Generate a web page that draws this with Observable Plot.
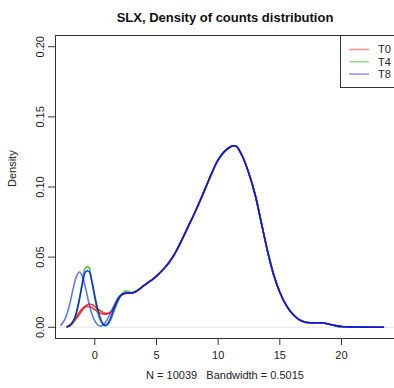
<!DOCTYPE html>
<html><head><meta charset="utf-8">
<script src="https://cdn.jsdelivr.net/npm/d3@7"></script>
<script src="https://cdn.jsdelivr.net/npm/@observablehq/plot@0.6"></script>
<style>
body{margin:0;background:#fff;font-family:"Liberation Sans",Arial,sans-serif;}
#wrap{position:relative;width:394px;height:388px;overflow:hidden;}
#legend{position:absolute;left:340px;top:35px;width:60px;height:53px;border:1px solid #333;background:#fff;box-sizing:border-box;}
</style></head><body>
<div id="wrap"><div id="chart"></div><div id="legend"></div></div>
<script>
const title = "SLX, Density of counts distribution";
const xLabel = "N = 10039   Bandwidth = 0.5015";
const yLabel = "Density";
const xTicks = [0, 5, 10, 15, 20];
const yTicks = [0, 0.05, 0.10, 0.15, 0.20];
const groups = ["T0", "T4", "T8"];
const curveIds = ["T0a", "T0b", "T4a", "T8a", "T8b"];

// low region, shared x grid
const xLow = [-2.75,-2.5,-2.25,-2,-1.75,-1.5,-1.25,-1,-0.75,-0.5,-0.25,0,0.25,0.5,0.75,1,1.25,1.5,1.75,2,2.25,2.5,2.75];
const T0a = [null,null,0.0003,0.0015,0.0035,0.0062,0.0092,0.0125,0.0152,0.0166,0.0162,0.0148,0.0130,0.0114,0.0102,0.0097,0.0105,0.0130,0.0172,0.0212,0.0236,0.0244,0.0245];
const T0b = [null,null,0.0003,0.0017,0.0042,0.0075,0.0108,0.0134,0.0148,0.0149,0.0140,0.0125,0.0110,0.0099,0.0094,0.0096,0.0108,0.0135,0.0176,0.0215,0.0237,0.0244,0.0245];
const T4a = [null,null,0.0003,0.0010,0.0034,0.0094,0.0199,0.0330,0.0426,0.0428,0.0335,0.0204,0.0097,0.0038,0.0012,0.0014,0.0045,0.0100,0.0158,0.0208,0.0243,0.0258,0.0255];
const T8a = [0.0015,0.0045,0.0098,0.0180,0.0279,0.0361,0.0394,0.0361,0.0279,0.0180,0.0098,0.0045,0.0015,0.0008,0.0022,0.0055,0.0095,0.0145,0.0190,0.0222,0.0237,0.0242,0.0243];
const T8b = [null,null,0.0004,0.0016,0.0045,0.0106,0.0201,0.0311,0.0395,0.0400,0.0330,0.0223,0.0123,0.0052,0.0015,0.0022,0.0060,0.0120,0.0175,0.0215,0.0235,0.0242,0.0243];

// main body, shared by all curves
const xHigh = [3,3.25,3.5,4,4.5,5,5.5,6,6.5,7,7.5,8,8.5,9,9.5,10,10.5,11,11.25,11.5,12,12.5,13,13.5,14,14.5,15,15.5,16,16.5,17,17.5,18,18.5,19,19.5,20,20.5,21,22,23,23.4];
const dHigh = [0.0245,0.0251,0.0265,0.0298,0.0330,0.0365,0.0408,0.0460,0.0527,0.0612,0.0705,0.0797,0.0895,0.0998,0.1103,0.1193,0.1252,0.1287,0.1294,0.1288,0.1212,0.1095,0.0945,0.0745,0.0545,0.0375,0.0250,0.0160,0.0098,0.0058,0.0038,0.0032,0.0032,0.0031,0.0022,0.0012,0.0005,0.0003,0.0002,0.0001,0.0000,0.0000];

const lows = {T0a, T0b, T4a, T8a, T8b};
const rows = [];
for (const id of curveIds) {
  lows[id].forEach((d, i) => { if (d != null) rows.push({x: xLow[i], d, id}); });
  xHigh.forEach((x, i) => rows.push({x, d: dHigh[i], id}));
}

const chart = Plot.plot({
  width: 394, height: 388,
  marginLeft: 55, marginRight: 0, marginTop: 35, marginBottom: 50,
  x: {domain: [-3.19, 24.3]},
  y: {domain: [-0.008, 0.208]},
  color: {domain: curveIds, range: ["#ff0000", "#ff0000", "#00c000", "#2f55dd", "#0000ff"]},
  style: {fontFamily: '"Liberation Sans", Arial, sans-serif', fontSize: "11px", color: "#222", background: "#fff"},
  marks: [
    Plot.ruleY([0], {stroke: "#e6e6e6"}),
    Plot.line(rows, {x: "x", y: "d", z: "id", stroke: "id", strokeWidth: 1.6, strokeOpacity: 0.78, curve: "catmull-rom"}),
    Plot.frame({stroke: "#333"}),
    Plot.axisX({ticks: xTicks, tickSize: 7, tickPadding: 6, tickFormat: d => String(d), label: null, stroke: "#333"}),
    Plot.axisY({ticks: yTicks, tickSize: 7, tickPadding: 5, tickRotate: -90, tickFormat: d3.format(".2f"), label: null, stroke: "#333"}),
    Plot.text([title], {frameAnchor: "top", dy: -23, fontWeight: "bold", fontSize: 13, fill: "#111"}),
    Plot.text([xLabel], {frameAnchor: "bottom", dy: 40, fontSize: 11, fill: "#222"}),
    Plot.text([yLabel], {frameAnchor: "left", dx: -43, rotate: -90, fontSize: 11, fill: "#222"})
  ]
});
document.getElementById("chart").appendChild(chart);

// legend (R style, top-right)
const legendColors = ["#ff0000", "#00c000", "#0000ff"];
const lg = d3.select("#legend").append("svg").attr("width", 60).attr("height", 52)
  .style("font-family", '"Liberation Sans", Arial, sans-serif').style("font-size", "11px");
groups.forEach((g, i) => {
  const y = 13.5 + i * 12.3;
  lg.append("line").attr("x1", 8).attr("x2", 28).attr("y1", y).attr("y2", y)
    .attr("stroke", legendColors[i]).attr("stroke-opacity", 0.45).attr("stroke-width", 1.5);
  lg.append("text").attr("x", 37).attr("y", y).attr("dy", "0.35em").attr("fill", "#222").text(g);
});
</script>
</body></html>
